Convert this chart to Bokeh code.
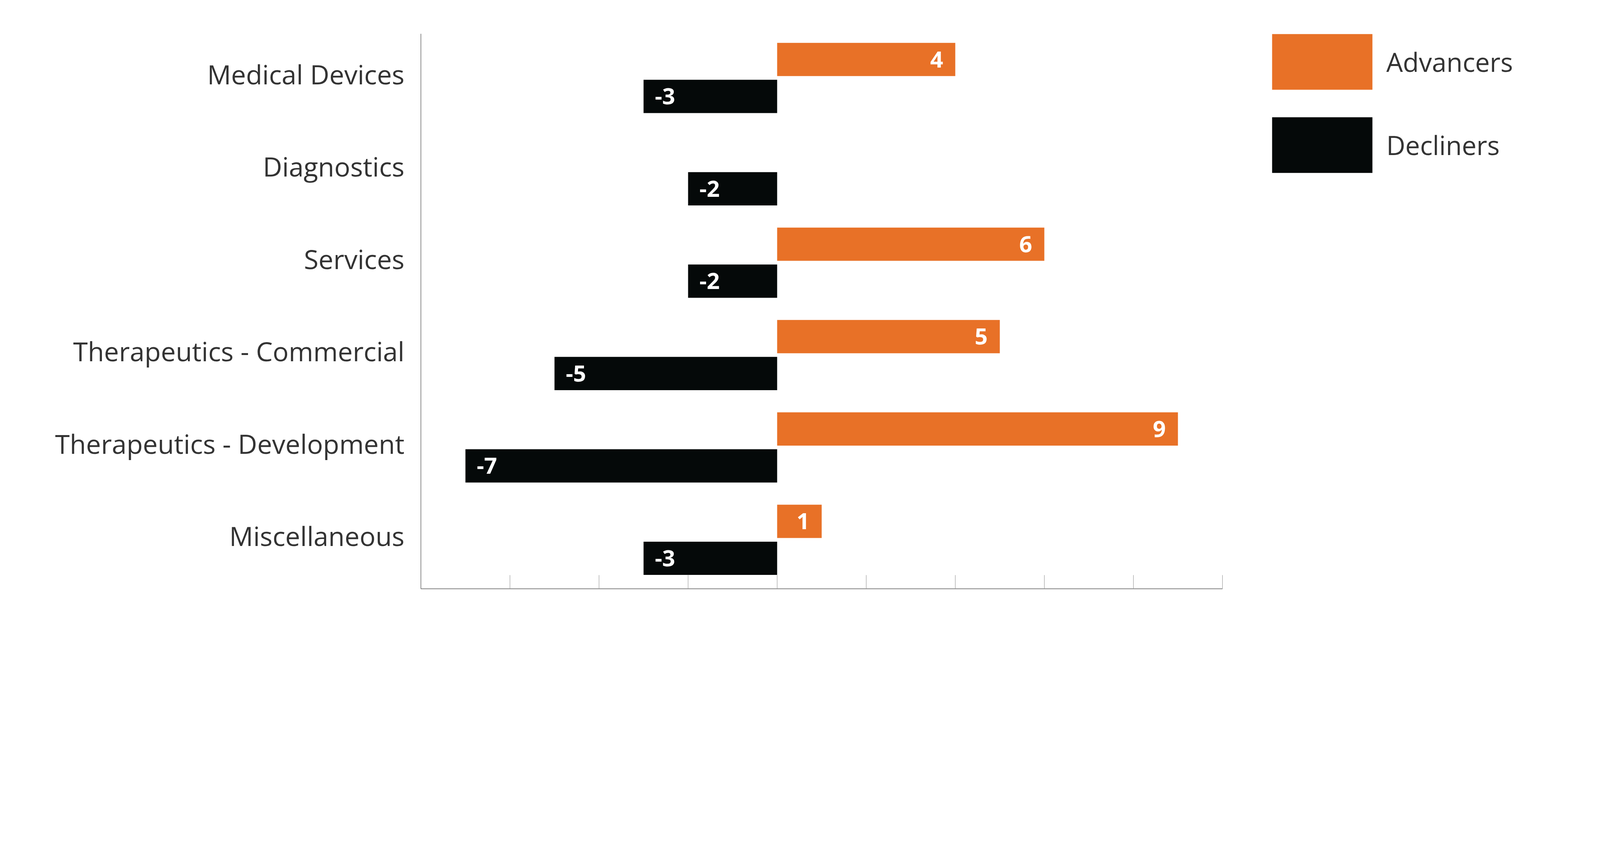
from bokeh.plotting import figure
from bokeh.models import ColumnDataSource, FixedTicker, Legend, LegendItem, Range1d
from bokeh.core.properties import value
from bokeh.embed import file_html
from bokeh.resources import INLINE

# ---- data ----
categories = ["Medical Devices", "Diagnostics", "Services",
              "Therapeutics - Commercial", "Therapeutics - Development", "Miscellaneous"]
advancers = [4, 0, 6, 5, 9, 1]
decliners = [-3, -2, -2, -5, -7, -3]
x_ticks = [-8, -6, -4, -2, 0, 2, 4, 6, 8, 10]
series_names = ["Advancers", "Decliners"]

# ---- style ----
ORANGE = "#E87127"
BLACK = "#050909"
TEXT = "#333333"
FONT = "Open Sans"
BAR_OFF = 0.2
BAR_H = 0.36
LABEL_LIFT = 0.043

n = len(categories)
pos = [n - 1 - i for i in range(n)]

src = ColumnDataSource(dict(
    cat=categories, pos=pos,
    y_adv=[p_ + BAR_OFF for p_ in pos],
    y_dec=[p_ - BAR_OFF for p_ in pos],
    adv=advancers, dec=decliners,
))

adv_lab = ColumnDataSource(dict(
    x=[v for v in advancers if v != 0],
    y=[p_ + BAR_OFF for p_, v in zip(pos, advancers) if v != 0],
    t=[str(v) for v in advancers if v != 0],
))
dec_lab = ColumnDataSource(dict(
    x=[v for v in decliners if v != 0],
    y=[p_ - BAR_OFF for p_, v in zip(pos, decliners) if v != 0],
    t=[str(v) for v in decliners if v != 0],
))

p = figure(
    x_range=Range1d(x_ticks[0], x_ticks[-1]),
    y_range=Range1d(-0.53, n - 1 + 0.478),
    frame_width=2052, frame_height=1421,
    min_border_left=1077, min_border_right=951,
    min_border_top=86, min_border_bottom=163,
    output_backend="svg", toolbar_location=None,
    background_fill_color="white", border_fill_color="white",
    outline_line_color=None,
)
p.xgrid.grid_line_color = None
p.ygrid.grid_line_color = None

# y axis: category labels (ticks invisible, labels lifted slightly)
label_ticks = [round(p_ + LABEL_LIFT, 3) for p_ in pos]
p.yaxis.ticker = FixedTicker(ticks=label_ticks)
p.yaxis.major_label_overrides = {t: c for t, c in zip(label_ticks, categories)}
p.yaxis.major_tick_line_color = None
p.yaxis.minor_tick_line_color = None
p.yaxis.major_tick_out = 0
p.yaxis.major_tick_in = 0
p.yaxis.axis_line_color = "#444444"
p.yaxis.axis_line_width = 1.2
p.yaxis.major_label_standoff = 42
p.yaxis.major_label_text_font = FONT
p.yaxis.major_label_text_font_size = "68px"
p.yaxis.major_label_text_color = TEXT

# x axis: inward ticks, no labels
p.xaxis.ticker = FixedTicker(ticks=x_ticks)
p.xaxis.major_label_overrides = {int(t): "" for t in x_ticks}
p.xaxis.major_tick_in = 35
p.xaxis.major_tick_out = 0
p.xaxis.major_tick_line_color = "#8c8c8c"
p.xaxis.major_tick_line_width = 1
p.xaxis.minor_tick_line_color = None
p.xaxis.axis_line_color = "#999999"
p.xaxis.axis_line_width = 2.3

r_adv = p.hbar(y="y_adv", left=0, right="adv", height=BAR_H, source=src,
               fill_color=ORANGE, line_color=None)
r_dec = p.hbar(y="y_dec", left="dec", right=0, height=BAR_H, source=src,
               fill_color=BLACK, line_color=None)

p.text(x="x", y="y", text="t", source=adv_lab, text_align="right",
       text_baseline="middle", x_offset=-31, text_color="white",
       text_font=value(FONT), text_font_style="bold", text_font_size="58px")
p.text(x="x", y="y", text="t", source=dec_lab, text_align="left",
       text_baseline="middle", x_offset=29, text_color="white",
       text_font=value(FONT), text_font_style="bold", text_font_size="58px")

legend = Legend(
    items=[LegendItem(label=series_names[0], renderers=[r_adv]),
           LegendItem(label=series_names[1], renderers=[r_dec])],
    location=(95, 1047),
    glyph_width=321, glyph_height=178, spacing=35, label_standoff=4,
    padding=0, margin=0, border_line_color=None, background_fill_alpha=0,
    label_text_font=FONT, label_text_font_size="67px", label_text_color=TEXT,
)
p.add_layout(legend, "right")

open("out.html", "w").write(file_html(p, INLINE))
